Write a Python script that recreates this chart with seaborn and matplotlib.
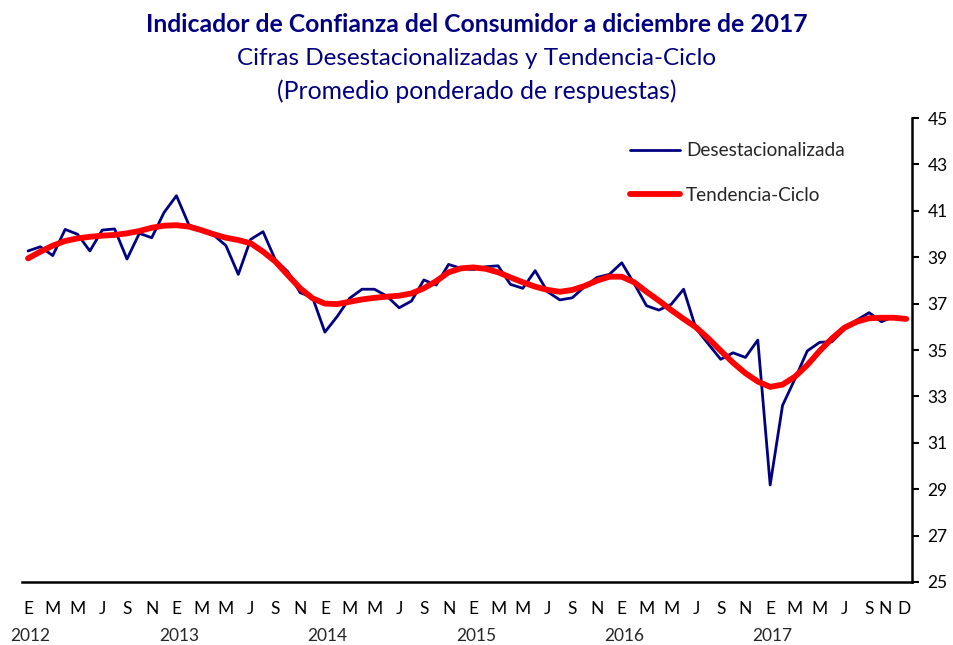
import numpy as np
import pandas as pd
import matplotlib
matplotlib.use("Agg")
import matplotlib.pyplot as plt
import matplotlib.transforms as mtransforms
import seaborn as sns

# Series mensuales, enero 2012 - diciembre 2017
desestacionalizada = [
    39.27, 39.45, 39.07, 40.20, 39.99, 39.27, 40.17, 40.22, 38.92, 40.03, 39.84, 40.93,
    41.65, 40.40, 40.17, 39.96, 39.50, 38.26, 39.77, 40.10, 38.88, 38.38, 37.47, 37.27,
    35.77, 36.45, 37.23, 37.62, 37.62, 37.33, 36.82, 37.11, 38.02, 37.80, 38.69, 38.52,
    38.47, 38.59, 38.63, 37.83, 37.66, 38.42, 37.51, 37.16, 37.25, 37.73, 38.13, 38.26,
    38.76, 37.87, 36.91, 36.72, 36.97, 37.62, 35.93, 35.26, 34.60, 34.88, 34.68, 35.43,
    29.18, 32.61, 33.75, 34.96, 35.33, 35.36, 35.89, 36.29, 36.61, 36.22, 36.44, 36.32,
]
tendencia_ciclo = [
    38.95, 39.24, 39.50, 39.70, 39.81, 39.88, 39.93, 39.96, 40.03, 40.13, 40.27, 40.36,
    40.38, 40.32, 40.17, 39.99, 39.84, 39.74, 39.60, 39.24, 38.81, 38.23, 37.66, 37.23,
    37.00, 36.98, 37.08, 37.18, 37.25, 37.30, 37.34, 37.44, 37.66, 37.97, 38.35, 38.52,
    38.56, 38.50, 38.35, 38.13, 37.92, 37.73, 37.59, 37.51, 37.59, 37.76, 37.99, 38.16,
    38.16, 37.92, 37.51, 37.13, 36.72, 36.34, 35.98, 35.50, 34.97, 34.45, 34.00, 33.64,
    33.41, 33.51, 33.85, 34.35, 34.96, 35.50, 35.96, 36.22, 36.37, 36.39, 36.39, 36.34,
]
mes_letras = ["E", "M", "M", "J", "S", "N"] * 5 + ["E", "M", "M", "J", "S", "N", "D"]
mes_pos = list(range(0, 60, 2)) + [60, 62, 64, 66, 68, 69.3, 70.8]
anios = ["2012", "2013", "2014", "2015", "2016", "2017"]
anio_pos = [0, 12, 24, 36, 48, 60]
y_ticks = list(range(25, 46, 2))

df = pd.DataFrame({
    "mes": np.arange(len(desestacionalizada)),
    "Desestacionalizada": desestacionalizada,
    "Tendencia-Ciclo": tendencia_ciclo,
})

sns.set_theme(style="white")
plt.rcParams["font.family"] = ["Lato", "DejaVu Sans"]

navy = "#000080"
fig = plt.figure(figsize=(9.54, 6.45), dpi=100)
ax = fig.add_axes([0.0229, 0.0977, 0.9335, 0.7193])

sns.lineplot(data=df, x="mes", y="Desestacionalizada", ax=ax, color=navy, lw=2,
             label="Desestacionalizada")
sns.lineplot(data=df, x="mes", y="Tendencia-Ciclo", ax=ax, color="#FF0000", lw=4.2,
             label="Tendencia-Ciclo")

ax.set_xlim(-0.5, 71.5)
ax.set_ylim(25, 45)
ax.set_xlabel("")
ax.set_ylabel("")

# eje Y a la derecha
ax.yaxis.tick_right()
ax.set_yticks(y_ticks)
ax.tick_params(axis="y", which="major", direction="out", length=5, width=1.5,
               color="black", labelsize=12.5, pad=6, labelcolor="black")

# eje X: marcas entre categorías cada 2 meses, etiquetas en el centro
ax.set_xticks(mes_pos)
ax.set_xticklabels(mes_letras)
ax.set_xticks(np.arange(-0.5, 72, 2), minor=True)
ax.tick_params(axis="x", which="major", length=0, labelsize=12.5, pad=14, labelcolor="black")
ax.tick_params(axis="x", which="minor", direction="out", length=6, width=1.5, color="black")

trans = mtransforms.blended_transform_factory(ax.transData, ax.transAxes)
for pos, txt in zip(anio_pos, anios):
    ax.text(pos + 0.2, -0.117, txt, transform=trans, ha="center", va="center", fontsize=12.5)

for side in ["top", "left"]:
    ax.spines[side].set_visible(False)
for side in ["bottom", "right"]:
    ax.spines[side].set_color("black")
    ax.spines[side].set_linewidth(1.8)
ax.grid(False)

ax.legend(loc="upper left", bbox_to_anchor=(0.683, 0.948), frameon=False, fontsize=13.7,
          handlelength=2.63, handletextpad=0.3, labelspacing=1.45, borderpad=0,
          borderaxespad=0)

fig.text(0.5, 0.962, "Indicador de Confianza del Consumidor a diciembre de 2017",
         ha="center", va="center", fontsize=17.8, fontweight="bold", color=navy)
fig.text(0.5, 0.910, "Cifras Desestacionalizadas y Tendencia-Ciclo",
         ha="center", va="center", fontsize=17.5, color=navy)
fig.text(0.5, 0.858, "(Promedio ponderado de respuestas)",
         ha="center", va="center", fontsize=17.8, color=navy)

fig.savefig("out.png", dpi=100)
